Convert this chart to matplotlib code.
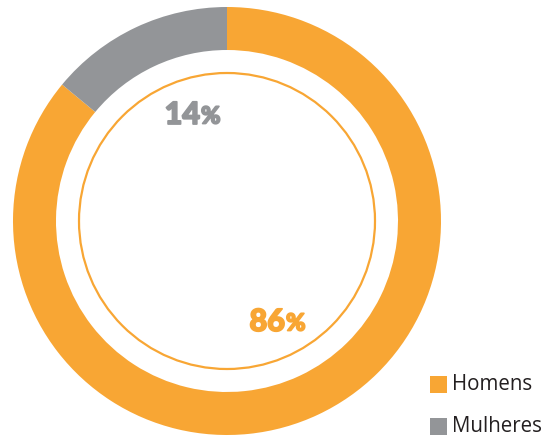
import matplotlib
matplotlib.use("Agg")
import matplotlib.pyplot as plt
import matplotlib.patheffects as pe
from matplotlib.patches import Circle, Rectangle

categories = ['Homens', 'Mulheres']
shares = [86, 14]
colors = ['#F8A634', '#939598']

W, H = 542, 437
fig = plt.figure(figsize=(W / 100, H / 100), dpi=100)
ax = fig.add_axes([0, 0, 1, 1])

cx, cy = 227, 216
r_out, r_in = 214, 171

# ring: men clockwise from the top, women fill the rest
ax.pie(shares, colors=colors, startangle=90, counterclock=False,
       center=(cx, cy), radius=r_out, frame=True,
       wedgeprops=dict(width=r_out - r_in, linewidth=0))
ax.set_xlim(0, W)
ax.set_ylim(0, H)
ax.set_aspect('equal')
ax.axis('off')

# thin inner circle
ax.add_patch(Circle((cx, cy), 148, fill=False, edgecolor=colors[0], linewidth=1.6))

def pct_label(x, y, val, color):
    heavy = [pe.withStroke(linewidth=1.3, foreground=color)]
    ax.text(x, y, str(val), color=color, fontsize=22, fontweight='black',
            family='Lato', ha='right', va='center', path_effects=heavy)
    ax.text(x + 1, y - 1, '%', color=color, fontsize=17, fontweight='black',
            family='Lato', ha='left', va='center', path_effects=heavy)

pct_label(200, 322, shares[1], colors[1])
pct_label(285, 115, shares[0], colors[0])

# legend
for i, (name, col) in enumerate(zip(categories, colors)):
    y = 53 - i * 42
    ax.add_patch(Rectangle((430, y - 8.5), 17, 17, color=col, linewidth=0))
    ax.text(452, y, name, fontsize=14.8, family='Open Sans', color='#231F20',
            ha='left', va='center')

fig.savefig('out.png', dpi=100)
